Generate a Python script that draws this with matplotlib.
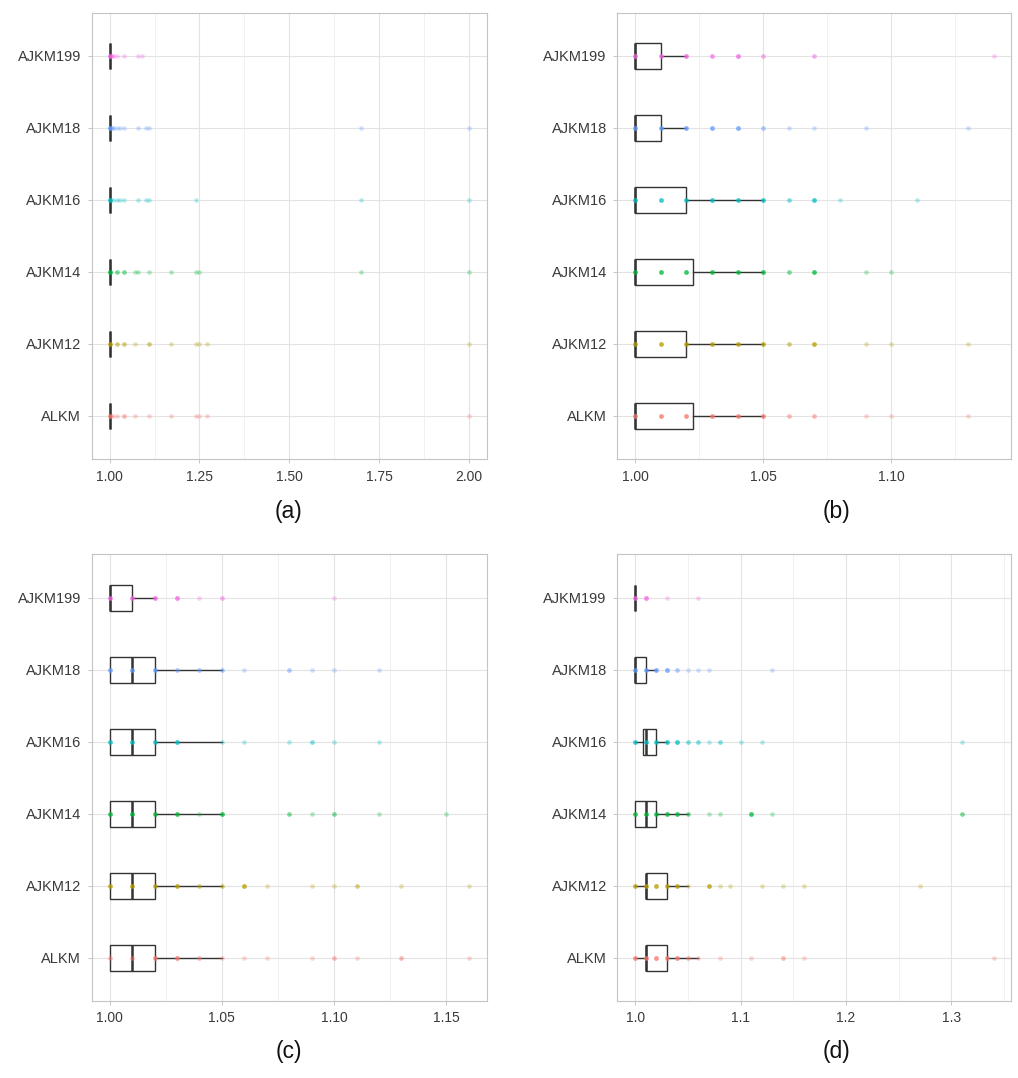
import numpy as np
import matplotlib
matplotlib.use("Agg")
import matplotlib.pyplot as plt

plt.rcParams['font.family'] = ['Liberation Sans', 'DejaVu Sans']

categorias = ['ALKM', 'AJKM12', 'AJKM14', 'AJKM16', 'AJKM18', 'AJKM199']
colores = ['#F8766D', '#B79F00', '#00BA38', '#00BFC4', '#619CFF', '#F564E3']

# (a) valores distintos por categoria y cuantas veces se repiten (mas repeticiones = punto mas opaco)
vals_a = [[1.00, 1.01, 1.02, 1.04, 1.07, 1.11, 1.17, 1.24, 1.25, 1.27, 2.00],
          [1.00, 1.02, 1.04, 1.07, 1.11, 1.17, 1.24, 1.25, 1.27, 2.00],
          [1.00, 1.02, 1.04, 1.07, 1.08, 1.11, 1.17, 1.24, 1.25, 1.70, 2.00],
          [1.00, 1.01, 1.02, 1.03, 1.04, 1.08, 1.10, 1.11, 1.24, 1.70, 2.00],
          [1.00, 1.01, 1.02, 1.03, 1.04, 1.08, 1.10, 1.11, 1.70, 2.00],
          [1.00, 1.01, 1.02, 1.04, 1.08, 1.09]]
cnt_a = [[4, 1, 1, 2, 1, 1, 1, 1, 1, 1, 1],
         [4, 2, 2, 1, 2, 1, 1, 1, 1, 1],
         [5, 2, 2, 1, 1, 1, 1, 1, 1, 1, 1],
         [5, 1, 1, 1, 1, 1, 1, 1, 1, 1, 1],
         [5, 2, 1, 1, 1, 1, 1, 1, 1, 1],
         [5, 2, 1, 1, 1, 1]]

vals_b = [[1.00, 1.01, 1.02, 1.03, 1.04, 1.05, 1.06, 1.07, 1.09, 1.10, 1.13],
          [1.00, 1.01, 1.02, 1.03, 1.04, 1.05, 1.06, 1.07, 1.09, 1.10, 1.13],
          [1.00, 1.01, 1.02, 1.03, 1.04, 1.05, 1.06, 1.07, 1.09, 1.10],
          [1.00, 1.01, 1.02, 1.03, 1.04, 1.05, 1.06, 1.07, 1.08, 1.11],
          [1.00, 1.01, 1.02, 1.03, 1.04, 1.05, 1.06, 1.07, 1.09, 1.13],
          [1.00, 1.01, 1.02, 1.03, 1.04, 1.05, 1.07, 1.14]]
cnt_b = [[4, 4, 4, 4, 4, 4, 2, 2, 1, 1, 1],
         [4, 4, 4, 4, 4, 4, 2, 4, 1, 1, 1],
         [4, 4, 4, 4, 4, 4, 2, 4, 1, 1],
         [4, 4, 4, 4, 4, 4, 2, 4, 1, 1],
         [4, 4, 4, 4, 4, 2, 1, 1, 1, 1],
         [4, 4, 4, 3, 4, 2, 2, 1]]

vals_c = [[1.00, 1.01, 1.02, 1.03, 1.04, 1.05, 1.06, 1.07, 1.09, 1.10, 1.11, 1.13, 1.16],
          [1.00, 1.01, 1.02, 1.03, 1.04, 1.05, 1.06, 1.07, 1.09, 1.10, 1.11, 1.13, 1.16],
          [1.00, 1.01, 1.02, 1.03, 1.04, 1.05, 1.08, 1.09, 1.10, 1.12, 1.15],
          [1.00, 1.01, 1.02, 1.03, 1.05, 1.06, 1.08, 1.09, 1.10, 1.12],
          [1.00, 1.01, 1.02, 1.03, 1.04, 1.05, 1.06, 1.08, 1.09, 1.10, 1.12],
          [1.00, 1.01, 1.02, 1.03, 1.04, 1.05, 1.10]]
cnt_c = [[2, 2, 4, 4, 2, 1, 1, 1, 1, 2, 1, 2, 1],
         [4, 4, 4, 4, 2, 2, 4, 1, 1, 1, 2, 1, 1],
         [4, 4, 4, 4, 1, 4, 2, 1, 2, 1, 1],
         [4, 4, 4, 4, 1, 1, 1, 2, 1, 1],
         [4, 4, 4, 2, 2, 2, 1, 2, 1, 1, 1],
         [4, 4, 4, 4, 1, 2, 1]]

vals_d = [[1.00, 1.01, 1.02, 1.03, 1.04, 1.05, 1.06, 1.08, 1.11, 1.14, 1.16, 1.34],
          [1.00, 1.01, 1.02, 1.03, 1.04, 1.05, 1.07, 1.08, 1.09, 1.12, 1.14, 1.16, 1.27],
          [1.00, 1.01, 1.02, 1.03, 1.04, 1.05, 1.07, 1.08, 1.11, 1.13, 1.31],
          [1.00, 1.01, 1.02, 1.03, 1.04, 1.05, 1.06, 1.07, 1.08, 1.10, 1.12, 1.31],
          [1.00, 1.01, 1.02, 1.03, 1.04, 1.05, 1.06, 1.07, 1.13],
          [1.00, 1.01, 1.03, 1.06]]
cnt_d = [[4, 4, 4, 4, 4, 2, 1, 1, 1, 2, 1, 1],
         [4, 4, 4, 4, 4, 1, 4, 1, 1, 1, 1, 1, 1],
         [4, 4, 4, 4, 4, 2, 1, 1, 4, 1, 2],
         [4, 4, 4, 4, 4, 2, 2, 1, 2, 1, 1, 1],
         [4, 4, 4, 4, 2, 1, 1, 1, 1],
         [4, 4, 1, 1]]

# estadisticos de las cajas (q1, mediana, q3, bigote inferior, bigote superior)
q1_a = [1.00] * 6
med_a = [1.00] * 6
q3_a = [1.00] * 6
lo_a = [1.00] * 6
hi_a = [1.00] * 6

q1_b = [1.00] * 6
med_b = [1.00] * 6
q3_b = [1.0225, 1.02, 1.0225, 1.02, 1.01, 1.01]
lo_b = [1.00] * 6
hi_b = [1.05, 1.05, 1.05, 1.05, 1.02, 1.02]

q1_c = [1.00] * 6
med_c = [1.01, 1.01, 1.01, 1.01, 1.01, 1.00]
q3_c = [1.02, 1.02, 1.02, 1.02, 1.02, 1.01]
lo_c = [1.00] * 6
hi_c = [1.05, 1.05, 1.05, 1.05, 1.05, 1.02]

q1_d = [1.01, 1.01, 1.00, 1.0075, 1.00, 1.00]
med_d = [1.01, 1.01, 1.01, 1.01, 1.00, 1.00]
q3_d = [1.03, 1.03, 1.02, 1.02, 1.01, 1.00]
lo_d = [1.00] * 6
hi_d = [1.06, 1.05, 1.05, 1.03, 1.02, 1.00]

ticks_a = [1.00, 1.25, 1.50, 1.75, 2.00]
ticks_b = [1.00, 1.05, 1.10]
ticks_c = [1.00, 1.05, 1.10, 1.15]
ticks_d = [1.0, 1.1, 1.2, 1.3]

paneles = [
    ('(a)', vals_a, cnt_a, (q1_a, med_a, q3_a, lo_a, hi_a), ticks_a, '%.2f', [0.0901, 0.5742, 0.3880, 0.4142], (0.2838, 0.5253)),
    ('(b)', vals_b, cnt_b, (q1_b, med_b, q3_b, lo_b, hi_b), ticks_b, '%.2f', [0.6064, 0.5742, 0.3872, 0.4142], (0.8219, 0.5253)),
    ('(c)', vals_c, cnt_c, (q1_c, med_c, q3_c, lo_c, hi_c), ticks_c, '%.2f', [0.0901, 0.0715, 0.3880, 0.4142], (0.2838, 0.0244)),
    ('(d)', vals_d, cnt_d, (q1_d, med_d, q3_d, lo_d, hi_d), ticks_d, '%.1f', [0.6064, 0.0715, 0.3872, 0.4142], (0.8219, 0.0244)),
]

fig = plt.figure(figsize=(10.18, 10.78), dpi=100)

for etiqueta, vals, cnts, stats, ticks, fmt, pos, lab in paneles:
    ax = fig.add_axes(pos)
    q1, med, q3, lo, hi = stats
    cajas = []
    for i in range(6):
        cajas.append({'q1': q1[i], 'med': med[i], 'q3': q3[i],
                      'whislo': lo[i], 'whishi': hi[i], 'fliers': []})
    ax.bxp(cajas, positions=range(1, 7), widths=0.36, orientation='horizontal',
           showcaps=False, showfliers=False, patch_artist=True,
           boxprops=dict(facecolor='white', edgecolor='#333333', linewidth=1.0),
           whiskerprops=dict(color='#333333', linewidth=1.0),
           medianprops=dict(color='#333333', linewidth=1.8), zorder=2)
    for i in range(6):
        x = np.repeat(vals[i], cnts[i])
        ax.scatter(x, np.full(len(x), i + 1), s=11, color=colores[i],
                   alpha=0.3, linewidths=0, zorder=3)

    ax.set_yticks(range(1, 7))
    ax.set_yticklabels(categorias)
    ax.set_xticks(ticks)
    ax.set_xticklabels([fmt % t for t in ticks])
    paso = ticks[1] - ticks[0]
    ax.set_xticks([t + paso / 2 for t in [ticks[0] - paso] + ticks], minor=True)
    # limites al final para que los ticks menores no amplien el eje
    todos = np.concatenate(vals)
    rango = todos.max() - todos.min()
    ax.set_xlim(todos.min() - 0.05 * rango, todos.max() + 0.05 * rango)
    ax.set_ylim(0.4, 6.6)
    ax.tick_params(axis='x', which='minor', length=0)
    ax.tick_params(which='major', length=2.6, width=0.6, color='#BDBDBD',
                   labelcolor='#3a3a3a', pad=5)
    ax.tick_params(axis='y', labelsize=10.5)
    ax.tick_params(axis='x', labelsize=10)
    ax.grid(True, which='major', color='#E3E3E3', linewidth=0.8, zorder=0)
    ax.grid(True, which='minor', axis='x', color='#EEEEEE', linewidth=0.6, zorder=0)
    ax.set_axisbelow(True)
    for s in ax.spines.values():
        s.set_color('#C4C4C4')
        s.set_linewidth(0.8)
    fig.text(lab[0], lab[1], etiqueta, ha='center', va='center', fontsize=16.5, color='#111111')

plt.savefig('out.png', dpi=100)
